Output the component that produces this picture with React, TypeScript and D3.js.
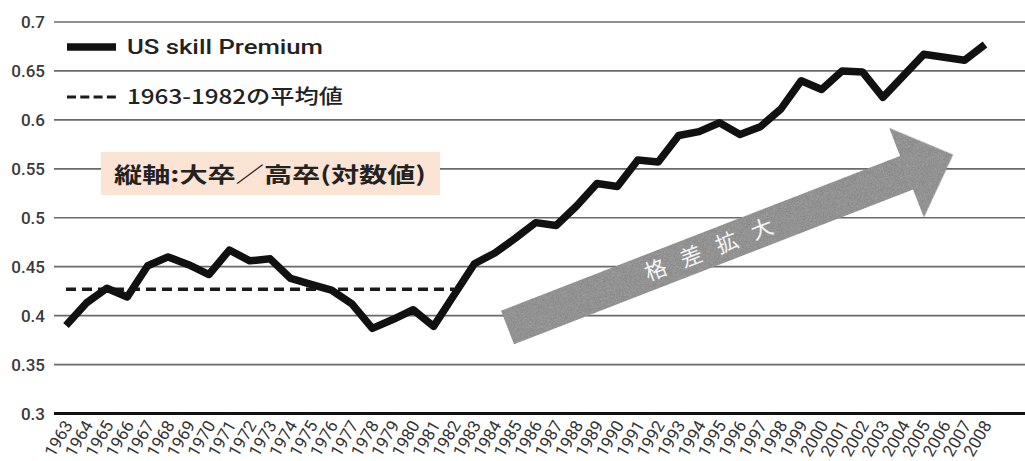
import React from "react";
import * as d3 from "d3";

const years: number[] = [
  1963, 1964, 1965, 1966, 1967, 1968, 1969, 1970, 1971, 1972, 1973, 1974, 1975, 1976, 1977,
  1978, 1979, 1980, 1981, 1982, 1983, 1984, 1985, 1986, 1987, 1988, 1989, 1990, 1991, 1992,
  1993, 1994, 1995, 1996, 1997, 1998, 1999, 2000, 2001, 2002, 2003, 2004, 2005, 2006, 2007, 2008,
];

const skillPremium: number[] = [
  0.39, 0.413, 0.428, 0.419, 0.451, 0.46, 0.452, 0.442, 0.467, 0.456, 0.458, 0.438, 0.432,
  0.426, 0.412, 0.387, 0.396, 0.406, 0.389, 0.421, 0.453, 0.464, 0.479, 0.495, 0.492, 0.512,
  0.535, 0.532, 0.559, 0.557, 0.584, 0.588, 0.597, 0.585, 0.593, 0.611, 0.64, 0.631, 0.65,
  0.649, 0.623, 0.645, 0.667, 0.664, 0.661, 0.677,
];

const avgYears: number[] = years.filter((y) => y <= 1982);
const avgValue = 0.427;

const yTicks: number[] = [0.3, 0.35, 0.4, 0.45, 0.5, 0.55, 0.6, 0.65, 0.7];
const yTickLabels: string[] = ["0.3", "0.35", "0.4", "0.45", "0.5", "0.55", "0.6", "0.65", "0.7"];

const legendLabels: string[] = ["US skill Premium", "1963-1982の平均値"];
const noteText = "縦軸:大卒／高卒(対数値)";
const arrowText = "格差拡大";

const W = 1025;
const H = 461;

export default function App() {
  const x = d3.scalePoint<number>().domain(years).range([66, 985]);
  const y = d3.scaleLinear().domain([0.3, 0.7]).range([413.5, 22]);

  const line = d3
    .line<number>()
    .x((_, i) => x(years[i]) as number)
    .y((d) => y(d));

  const avgLine = d3
    .line<number>()
    .x((d) => x(d) as number)
    .y(() => y(avgValue));

  const numFont = "Roboto, 'DejaVu Sans', sans-serif";
  const jpFont = "'Noto Sans CJK JP', 'Noto Sans', sans-serif";

  const shaftHalf = 18;
  const headBase = 428;
  const headHalf = 48;
  const tip = 478;
  const arrowPts: [number, number][] = [
    [0, -shaftHalf],
    [headBase, -shaftHalf],
    [headBase, -headHalf],
    [tip, 0],
    [headBase, headHalf],
    [headBase, shaftHalf],
    [0, shaftHalf],
  ];

  return (
    <svg
      width={W}
      height={H}
      viewBox={`0 0 ${W} ${H}`}
      style={{ position: "absolute", left: 0, top: 0, background: "#fff" }}
    >
      <defs>
        <filter id="grain" x="0" y="0" width="100%" height="100%">
          <feTurbulence type="fractalNoise" baseFrequency="1.2" numOctaves="2" seed="3" result="n" />
          <feColorMatrix
            in="n"
            type="matrix"
            values="0 0 0 0 0.5  0 0 0 0 0.5  0 0 0 0 0.5  0 0 0 0.9 -0.25"
            result="g"
          />
          <feComposite in="g" in2="SourceGraphic" operator="in" result="gi" />
          <feMerge>
            <feMergeNode in="SourceGraphic" />
            <feMergeNode in="gi" />
          </feMerge>
        </filter>
      </defs>
      <rect x={0} y={0} width={W} height={H} fill="#fff" />

      {yTicks.map((t, i) =>
        i === 0 ? null : (
          <line
            key={t}
            x1={54}
            x2={W}
            y1={y(t)}
            y2={y(t)}
            stroke="#6a6a6a"
            strokeWidth={1.7}
          />
        )
      )}
      <line x1={54} x2={W} y1={y(0.3)} y2={y(0.3)} stroke="#111" strokeWidth={2.8} />

      {yTicks.map((t, i) => (
        <text
          key={"l" + t}
          x={45}
          y={y(t)}
          dy="0.36em"
          textAnchor="end"
          fontFamily={numFont}
          fontWeight={500}
          fontSize={17}
          fill="#3a3a3a"
        >
          {yTickLabels[i]}
        </text>
      ))}

      {years.map((yr) => (
        <text
          key={"x" + yr}
          transform={`translate(${(x(yr) as number) + 2},${422}) rotate(-60)`}
          textAnchor="end"
          dy="0.35em"
          fontFamily={numFont}
          fontSize={17}
          fill="#333"
        >
          {yr}
        </text>
      ))}

      <rect x={101} y={152} width={339} height={43} fill="#fbe4d4" />
      <text
        x={270}
        y={174}
        dy="0.36em"
        textAnchor="middle"
        fontFamily={jpFont}
        fontWeight={700}
        fontSize={21}
        fill="#222"
        textLength={312}
        lengthAdjust="spacingAndGlyphs"
      >
        {noteText}
      </text>

      <g transform="translate(507.5,327.5) rotate(-21.2)">
        <polygon
          points={arrowPts.map((p) => p.join(",")).join(" ")}
          fill="#858585"
          filter="url(#grain)"
        />
        <text
          x={224}
          y={0}
          dy="0.36em"
          textAnchor="middle"
          fontFamily={jpFont}
          fontSize={22}
          fill="#f4f4f4"
          letterSpacing={16}
        >
          {arrowText}
        </text>
      </g>

      <path
        d={avgLine(avgYears) || ""}
        fill="none"
        stroke="#1a1a1a"
        strokeWidth={3.5}
        strokeDasharray="10 6"
      />

      <path
        d={line(skillPremium) || ""}
        fill="none"
        stroke="#111"
        strokeWidth={7.5}
        strokeLinejoin="round"
        strokeLinecap="butt"
      />

      <line x1={67} x2={116} y1={47} y2={47} stroke="#111" strokeWidth={7.5} />
      <text
        x={127}
        y={47}
        dy="0.36em"
        fontFamily={numFont}
        fontWeight={500}
        fontSize={20}
        fill="#222"
        textLength={196}
        lengthAdjust="spacingAndGlyphs"
      >
        {legendLabels[0]}
      </text>
      <line
        x1={67}
        x2={116}
        y1={97}
        y2={97}
        stroke="#1a1a1a"
        strokeWidth={3}
        strokeDasharray="9 4.3"
      />
      <text
        x={127}
        y={97}
        dy="0.36em"
        fontFamily={jpFont}
        fontWeight={500}
        fontSize={20}
        fill="#222"
        textLength={216}
        lengthAdjust="spacingAndGlyphs"
      >
        {legendLabels[1]}
      </text>
    </svg>
  );
}
